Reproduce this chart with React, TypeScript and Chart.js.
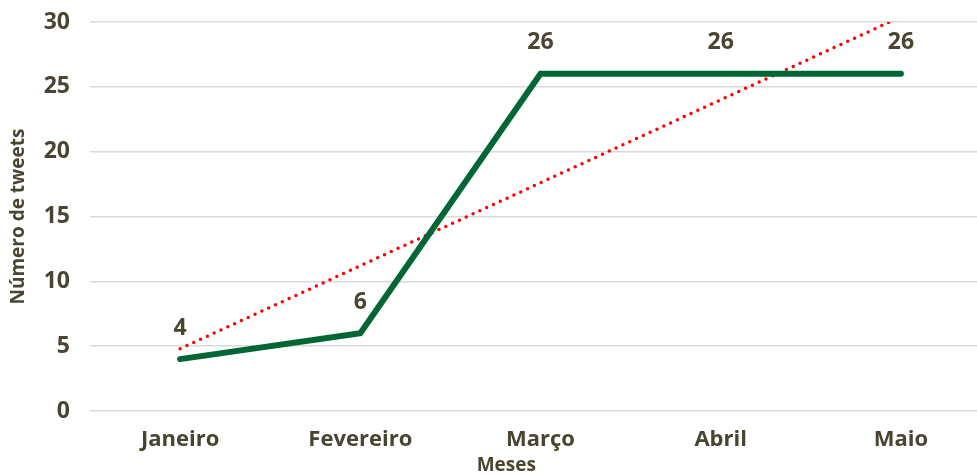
import React, { useEffect, useRef } from "react";
import { Chart, registerables } from "chart.js";

Chart.register(...registerables);

const categories = ["Janeiro", "Fevereiro", "Março", "Abril", "Maio"];
const tweets = [4, 6, 26, 26, 26];
const trend = [4.8, 11.2, 17.6, 24, 30.4];
const yTitle = "Número de tweets";
const xTitle = "Meses";

const TEXT = "#4a4530";
const FONT = "'Open Sans', 'DejaVu Sans', sans-serif";

const labelsPlugin = {
  id: "valueLabels",
  afterDatasetsDraw(chart: any) {
    const ctx = chart.ctx;
    const meta = chart.getDatasetMeta(0);
    ctx.save();
    ctx.fillStyle = TEXT;
    ctx.font = `bold 23px ${FONT}`;
    ctx.textAlign = "center";
    ctx.textBaseline = "middle";
    meta.data.forEach((pt: any, i: number) => {
      ctx.fillText(String(tweets[i]), pt.x, pt.y - 31);
    });
    // x-axis title
    ctx.font = `bold 19px ${FONT}`;
    const area = chart.chartArea;
    ctx.fillText(xTitle, area.left + (area.right - area.left) * 0.462, 466);
    ctx.restore();
  },
};

export default function App() {
  const ref = useRef<HTMLCanvasElement>(null);
  useEffect(() => {
    if (!ref.current) return;
    const chart = new Chart(ref.current, {
      type: "line",
      data: {
        labels: categories,
        datasets: [
          {
            data: tweets,
            borderColor: "#006633",
            borderWidth: 6,
            borderCapStyle: "round",
            borderJoinStyle: "miter",
            pointRadius: 0,
            tension: 0,
          },
          {
            data: trend,
            borderColor: "#ff0000",
            borderWidth: 3.5,
            borderDash: [0, 7.5],
            borderCapStyle: "round",
            pointRadius: 0,
            tension: 0,
            clip: 0,
          },
        ],
      },
      options: {
        responsive: false,
        animation: false,
        devicePixelRatio: 1,
        layout: { padding: { top: 22, right: 9, left: 0, bottom: 0 } },
        plugins: { legend: { display: false }, tooltip: { enabled: false } },
        scales: {
          x: {
            offset: true,
            grid: { display: false, drawTicks: false },
            border: { display: false },
            ticks: {
              color: TEXT,
              font: { family: FONT, size: 22, weight: "bold" },
              padding: 16,
            },
            afterFit(scale: any) {
              scale.height = 69;
              scale.paddingLeft = 0;
              scale.paddingRight = 0;
            },
          },
          y: {
            min: 0,
            max: 30,
            ticks: {
              stepSize: 5,
              color: TEXT,
              font: { family: FONT, size: 23, weight: "bold" },
              padding: 20,
            },
            grid: { color: "#d9d9d9", lineWidth: 1.5, drawTicks: false },
            border: { display: false },
            title: {
              display: true,
              text: yTitle,
              color: TEXT,
              font: { family: FONT, size: 19, weight: "bold" },
              padding: { top: 7, bottom: 0 },
            },
            afterFit(scale: any) {
              scale.width = 90;
              scale.paddingTop = 0;
              scale.paddingBottom = 0;
            },
          },
        },
      },
      plugins: [labelsPlugin],
    });
    return () => chart.destroy();
  }, []);
  return (
    <div
      style={{
        position: "fixed",
        left: 0,
        top: 0,
        width: 977,
        height: 475,
        overflow: "hidden",
        background: "#fff",
      }}
    >
      <canvas
        ref={ref}
        width={1000}
        height={480}
        style={{ width: 1000, height: 480, display: "block" }}
      />
    </div>
  );
}
